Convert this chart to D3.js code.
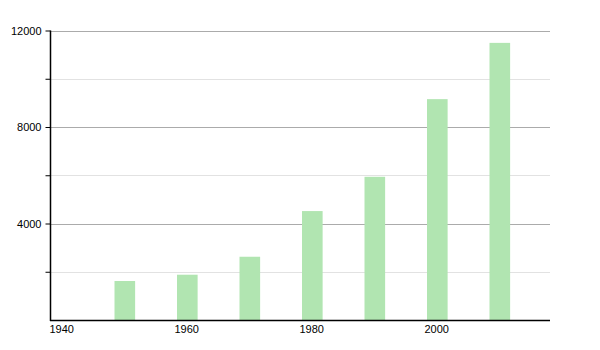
<!DOCTYPE html>
<html>
<head>
<meta charset="utf-8">
<script src="https://cdn.jsdelivr.net/npm/d3@7"></script>
<style>
  body { margin: 0; background: #fff; }
  svg text { font-family: "Liberation Sans", Arial, sans-serif; font-size: 11px; fill: #000; }
</style>
</head>
<body>
<div id="chart"></div>
<script>
var years = [1950, 1960, 1970, 1980, 1990, 2000, 2010];
var values = [1616, 1877, 2622, 4515, 5936, 9155, 11487];
var yMajorTicks = [4000, 8000, 12000];
var yMinorTicks = [2000, 6000, 10000];
var xTicks = [1940, 1960, 1980, 2000];

(function() {
  var width = 600, height = 350,
    left = 50, right = 550, top = 30.5, bottom = 320;

  var svg = d3.select("#chart").append("svg")
    .attr("width", width)
    .attr("height", height);

  var x = d3.scaleLinear().domain([1940, 2020]).range([left, right]);
  var y = d3.scaleLinear().domain([0, 12000]).range([bottom, top]);

  // minor grid (lighter)
  svg.append("g").selectAll("line")
    .data(yMinorTicks)
    .enter().append("line")
    .attr("x1", left).attr("x2", right)
    .attr("y1", function(d) { return Math.round(y(d)) + 0.5; })
    .attr("y2", function(d) { return Math.round(y(d)) + 0.5; })
    .style("stroke", "#e2e2e2");

  // major grid
  svg.append("g").selectAll("line")
    .data(yMajorTicks)
    .enter().append("line")
    .attr("x1", left).attr("x2", right)
    .attr("y1", function(d) { return Math.round(y(d)) + 0.5; })
    .attr("y2", function(d) { return Math.round(y(d)) + 0.5; })
    .style("stroke", "#ababab");

  // bars
  var barW = x(1943.3) - x(1940);
  svg.append("g").selectAll("rect")
    .data(years)
    .enter().append("rect")
    .attr("x", function(d) { return x(d) + 2; })
    .attr("width", barW)
    .attr("y", function(d, i) { return y(values[i]); })
    .attr("height", function(d, i) { return bottom - y(values[i]); })
    .style("fill", "#b1e5b1");

  // y axis
  var yAxis = d3.axisLeft(y)
    .tickValues(yMajorTicks.concat(yMinorTicks))
    .tickSize(5)
    .tickPadding(4)
    .tickFormat(function(d) { return yMajorTicks.indexOf(d) >= 0 ? d : ""; });
  var gy = svg.append("g")
    .attr("transform", "translate(" + (left + 0.5) + ",0)")
    .call(yAxis);
  gy.select(".domain").remove();
  gy.selectAll(".tick line").style("stroke", "#000");
  gy.selectAll("text").style("font-family", "Liberation Sans, Arial, sans-serif").style("font-size", "11px");
  svg.append("line")
    .attr("x1", left + 0.5).attr("x2", left + 0.5)
    .attr("y1", y(12000)).attr("y2", bottom + 1)
    .style("stroke", "#000").style("stroke-width", 1.5);

  // x axis
  var xAxis = d3.axisBottom(x)
    .tickValues(xTicks)
    .tickSize(0)
    .tickPadding(5)
    .tickFormat(d3.format("d"));
  var gx = svg.append("g")
    .attr("transform", "translate(0," + (bottom + 0.5) + ")")
    .call(xAxis);
  gx.select(".domain").remove();
  gx.selectAll("text")
    .attr("text-anchor", "start")
    .attr("dx", -1)
    .style("font-family", "Liberation Sans, Arial, sans-serif")
    .style("font-size", "11px");
  svg.append("line")
    .attr("x1", left).attr("x2", right)
    .attr("y1", bottom + 0.5).attr("y2", bottom + 0.5)
    .style("stroke", "#000").style("stroke-width", 1.5);
})();
</script>
</body>
</html>
